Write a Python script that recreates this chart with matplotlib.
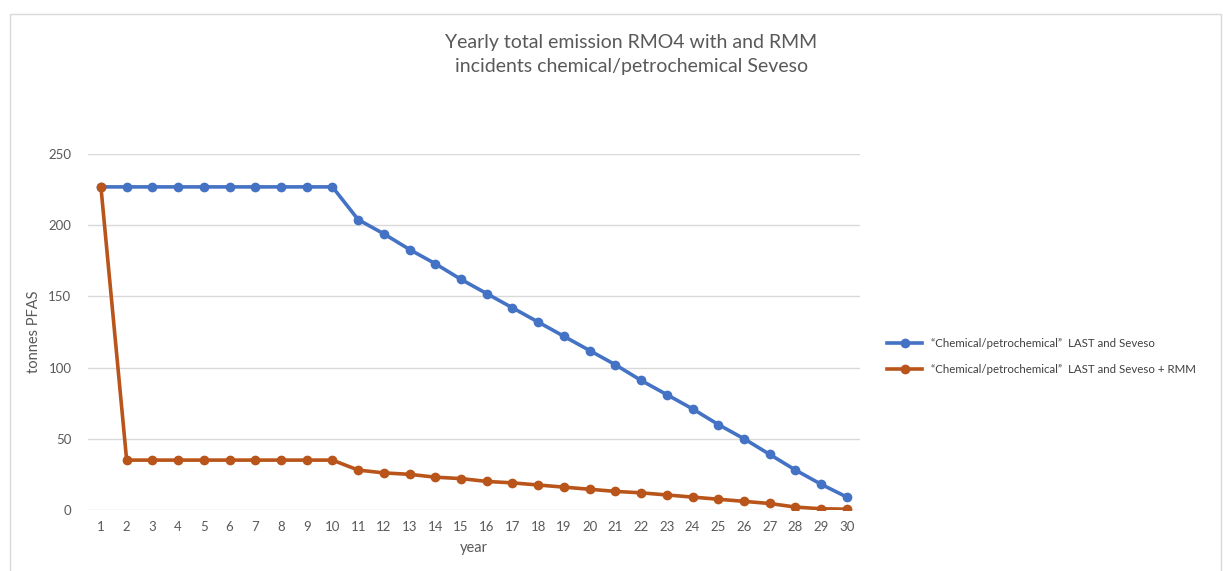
import matplotlib.pyplot as plt
import numpy as np

years = list(range(1, 31))
last_seveso = [227, 227, 227, 227, 227, 227, 227, 227, 227, 227,
               204, 194, 183, 173, 162, 152, 142, 132, 122, 112,
               102, 91, 81, 71, 60, 50, 39, 28, 18, 9]
last_seveso_rmm = [227, 35, 35, 35, 35, 35, 35, 35, 35, 35,
                   28, 26, 25, 23, 22, 20, 19, 17.5, 16, 14.5,
                   13, 12, 10.5, 9, 7.5, 6, 4.5, 2, 0.8, 0.5]
labels = ['\u201cChemical/petrochemical\u201d  LAST and Seveso',
          '\u201cChemical/petrochemical\u201d  LAST and Seveso + RMM']

plt.rcParams['font.family'] = ['Lato', 'DejaVu Sans']
grey = '#595959'

fig = plt.figure(figsize=(12.23, 5.71), dpi=100)
ax = fig.add_axes([0.072, 0.107, 0.631, 0.623])

ax.plot(years, last_seveso, color='#4472C4', lw=2.6, marker='o', ms=6, label=labels[0])
ax.plot(years, last_seveso_rmm, color='#B9551A', lw=2.6, marker='o', ms=6, label=labels[1])

ax.set_xlim(0.5, 30.5)
ax.set_ylim(0, 250)
ax.set_xticks(years)
ax.set_yticks(np.arange(0, 251, 50))
ax.grid(axis='y', color='#d9d9d9', lw=1)
ax.set_axisbelow(True)
for s in ax.spines.values():
    s.set_visible(False)
ax.tick_params(length=0, colors=grey, labelsize=9.5, pad=8)
ax.tick_params(axis='y', pad=12)
ax.set_xlabel('year', color=grey, fontsize=10.5, labelpad=6)
ax.set_ylabel('tonnes PFAS', color=grey, fontsize=10.5, labelpad=5)

fig.text(0.516, 0.905, 'Yearly total emission RMO4 with and RMM\nincidents chemical/petrochemical Seveso',
         ha='center', va='center', fontsize=14, color=grey, linespacing=1.5)

fig.legend(loc='center left', bbox_to_anchor=(0.717, 0.376), frameon=False,
           fontsize=8.3, labelcolor='#404040', handlelength=3, labelspacing=1.3)

fig.add_artist(plt.Rectangle((0.008, -0.01), 0.99, 0.985, transform=fig.transFigure,
                             fill=False, edgecolor='#d9d9d9', lw=1))

fig.savefig('out.png', dpi=100)
